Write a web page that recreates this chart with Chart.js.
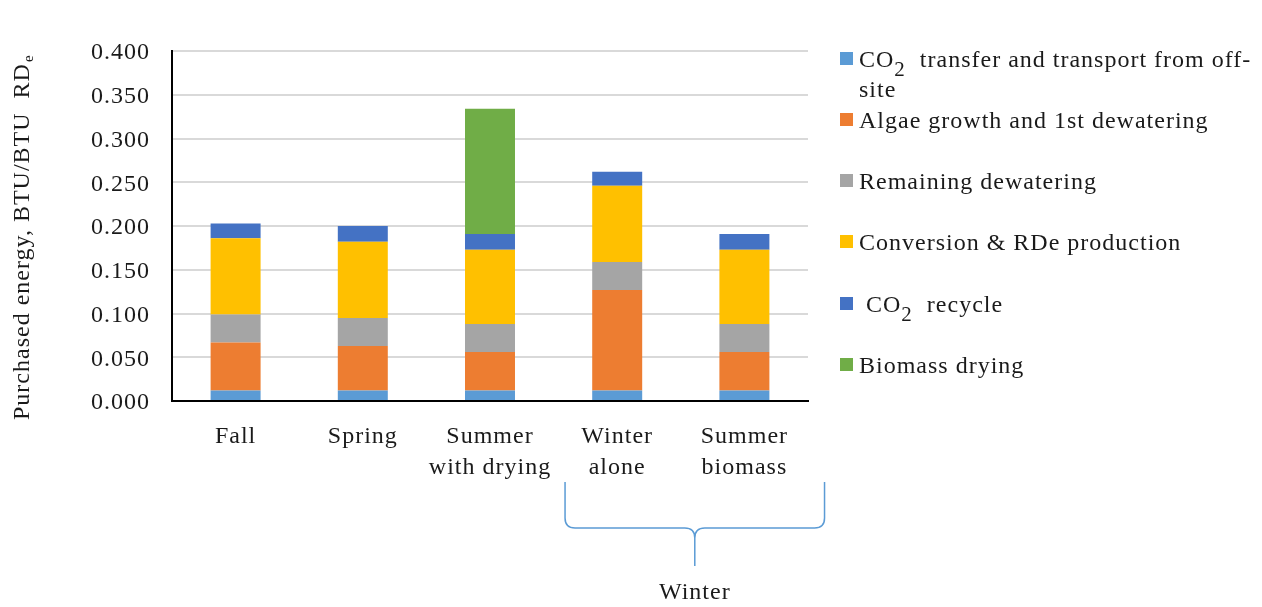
<!DOCTYPE html>
<html><head><meta charset="utf-8">
<script src="https://cdn.jsdelivr.net/npm/chart.js@4.4.1/dist/chart.umd.min.js"></script>
<style>
html,body{margin:0;padding:0;background:#fff;}
#wrap{position:relative;width:1262px;height:607px;overflow:hidden;}
canvas{display:block;}
#legend{position:absolute;left:840px;top:0;width:422px;font-family:"Liberation Serif","Times New Roman",serif;font-size:24px;letter-spacing:1px;color:#1a1a1a;}
.item{position:absolute;left:0;width:420px;height:30px;}
.sw{position:absolute;left:0;top:8px;width:13px;height:13px;}
.tx{position:absolute;left:19px;top:0;width:400px;line-height:30px;white-space:pre-wrap;}
.tx sub{font-size:21px;line-height:0;vertical-align:-9px;}
</style></head><body>
<div id="wrap"><canvas id="c" width="1262" height="607"></canvas><div id="legend"></div></div>
<script>
// ---- data ----
const categories = ["Fall", ["Spring"], ["Summer", "with drying"], ["Winter", "alone"], ["Summer", "biomass"]];
const co2Transfer   = [0.012, 0.012, 0.012, 0.012, 0.012];
const algaeGrowth   = [0.055, 0.051, 0.044, 0.115, 0.044];
const remainingDew  = [0.032, 0.032, 0.032, 0.032, 0.032];
const conversion    = [0.087, 0.087, 0.085, 0.087, 0.085];
const co2Recycle    = [0.017, 0.018, 0.018, 0.016, 0.018];
const biomassDrying = [0, 0, 0.143, 0, 0];
const seriesNames = [
  "CO2  transfer and transport from off-site",
  "Algae growth and 1st dewatering",
  "Remaining dewatering",
  "Conversion & RDe production",
  " CO2  recycle",
  "Biomass drying"
];
const yTicks = [0, 0.05, 0.1, 0.15, 0.2, 0.25, 0.3, 0.35, 0.4];
const yTitle = "Purchased energy, BTU/BTU  RD";
const yTitleSub = "e";
const groupLabel = "Winter";
const groupFrom = 3, groupTo = 4;

const colors = ["#5B9BD5", "#ED7D31", "#A5A5A5", "#FFC000", "#4472C4", "#70AD47"];
const FONT = '"Liberation Serif", "Times New Roman", serif';
const TXT = "#1a1a1a";

const seriesValues = [co2Transfer, algaeGrowth, remainingDew, conversion, co2Recycle, biomassDrying];
const datasets = seriesValues.map((v, i) => ({
  label: seriesNames[i], data: v, backgroundColor: colors[i],
  borderWidth: 0, categoryPercentage: 1, barPercentage: 0.393
}));

const spacingPlugin = {
  id: 'spacing',
  beforeDraw(chart) { chart.ctx.letterSpacing = '1px'; }
};

const extrasPlugin = {
  id: 'extras',
  afterDraw(chart) {
    const ctx = chart.ctx, x = chart.scales.x, area = chart.chartArea;
    ctx.save();
    ctx.letterSpacing = '1px';
    // y-axis title (rotated) with subscript
    ctx.fillStyle = TXT;
    ctx.font = '24px ' + FONT;
    ctx.translate(23, 420);
    ctx.rotate(-Math.PI / 2);
    ctx.textAlign = 'left';
    ctx.textBaseline = 'middle';
    ctx.fillText(yTitle, 0, 0);
    const w = ctx.measureText(yTitle).width;
    ctx.font = '15px ' + FONT;
    ctx.fillText(yTitleSub, w + 1, 6);
    ctx.restore();

    // brace under group
    const cw = (area.right - area.left) / categories.length;
    const left = x.getPixelForValue(groupFrom) - 0.41 * cw;
    const right = x.getPixelForValue(groupTo) + 0.63 * cw;
    const mid = (left + right) / 2;
    const top = 482, hy = 528, tip = 566, r = 10;
    ctx.save();
    ctx.strokeStyle = '#5B9BD5';
    ctx.lineWidth = 1.5;
    ctx.beginPath();
    ctx.moveTo(left, top);
    ctx.lineTo(left, hy - r);
    ctx.quadraticCurveTo(left, hy, left + r, hy);
    ctx.lineTo(mid - r, hy);
    ctx.quadraticCurveTo(mid, hy, mid, hy + r);
    ctx.lineTo(mid, tip);
    ctx.moveTo(mid, hy + r);
    ctx.quadraticCurveTo(mid, hy, mid + r, hy);
    ctx.lineTo(right - r, hy);
    ctx.quadraticCurveTo(right, hy, right, hy - r);
    ctx.lineTo(right, top);
    ctx.stroke();
    ctx.letterSpacing = '1px';
    ctx.fillStyle = TXT;
    ctx.font = '24px ' + FONT;
    ctx.textAlign = 'center';
    ctx.textBaseline = 'middle';
    ctx.fillText(groupLabel, mid, 593);
    ctx.restore();
  }
};

const htmlLegendPlugin = {
  id: 'htmlLegend',
  afterUpdate(chart) {
    const box = document.getElementById('legend');
    box.innerHTML = '';
    chart.data.datasets.forEach((ds, i) => {
      const item = document.createElement('div');
      item.className = 'item';
      item.style.top = (58.5 + i * 61.3 - 15) + 'px';
      const sw = document.createElement('span');
      sw.className = 'sw';
      sw.style.background = ds.backgroundColor;
      const tx = document.createElement('span');
      tx.className = 'tx';
      const parts = ds.label.split('CO2');
      parts.forEach((p, k) => {
        if (k > 0) {
          tx.appendChild(document.createTextNode('CO'));
          const s = document.createElement('sub'); s.textContent = '2'; tx.appendChild(s);
        }
        tx.appendChild(document.createTextNode(p));
      });
      item.appendChild(sw); item.appendChild(tx);
      box.appendChild(item);
    });
  }
};

new Chart(document.getElementById('c'), {
  type: 'bar',
  data: { labels: categories, datasets },
  plugins: [spacingPlugin, extrasPlugin, htmlLegendPlugin],
  options: {
    responsive: false, animation: false, devicePixelRatio: 1,
    layout: { padding: { left: 0, top: 51, right: 454, bottom: 126 } },
    plugins: { legend: { display: false }, tooltip: { enabled: false } },
    scales: {
      x: {
        stacked: true,
        grid: { display: false, drawTicks: false },
        border: { display: true, color: '#000', width: 2 },
        ticks: { color: TXT, font: { family: FONT, size: 24, lineHeight: 1.3 }, padding: 20, maxRotation: 0, autoSkip: false },
        afterFit(s) { s.height = 80; }
      },
      y: {
        stacked: true, min: 0, max: 0.4,
        afterBuildTicks(s) { s.ticks = yTicks.map(v => ({ value: v })); },
        grid: { color: '#d9d9d9', lineWidth: 2, drawTicks: false },
        border: { display: true, color: '#000', width: 2 },
        ticks: { color: TXT, font: { family: FONT, size: 24 }, padding: 22, labelOffset: 2, callback: v => Number(v).toFixed(3) },
        afterFit(s) { s.width = 172; }
      }
    }
  }
});
</script>
</body></html>
